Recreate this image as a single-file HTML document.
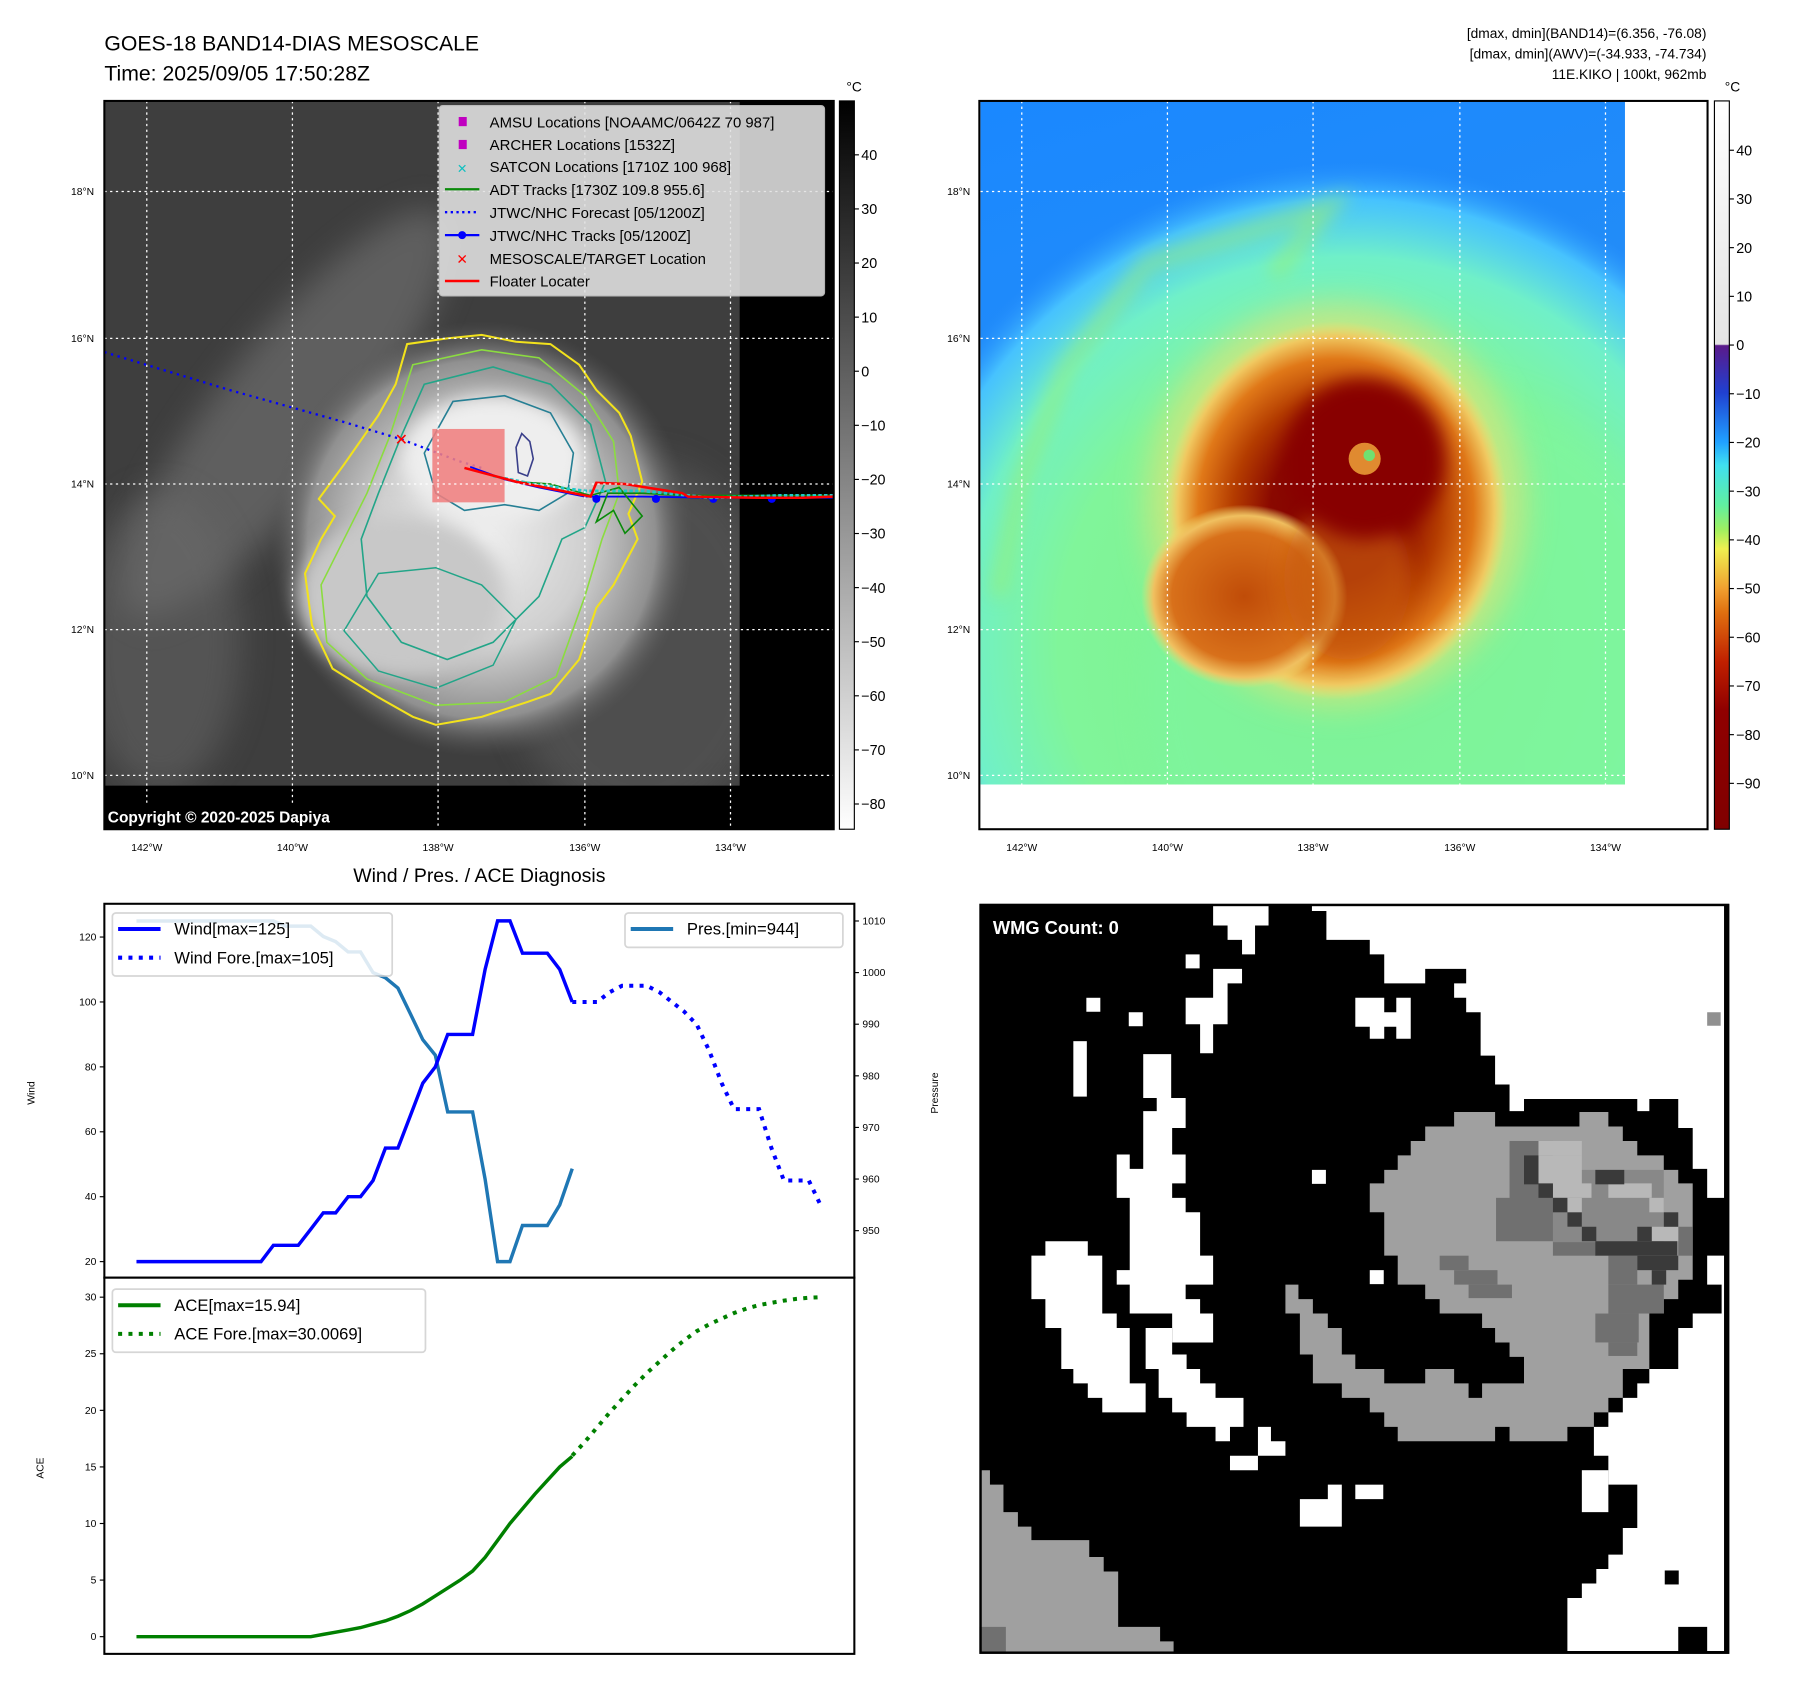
<!DOCTYPE html>
<html><head><meta charset="utf-8"><style>
html,body{margin:0;padding:0;background:#fff;}
svg{display:block;font-family:"Liberation Sans","DejaVu Sans",sans-serif;}
</style></head><body>
<svg id="root" width="1797" height="1690" viewBox="0 0 1567 1473.5" preserveAspectRatio="none" xmlns="http://www.w3.org/2000/svg">
<defs>
<filter id="blur8" x="-50%" y="-50%" width="200%" height="200%"><feGaussianBlur stdDeviation="8"/></filter>
<filter id="blur4" x="-50%" y="-50%" width="200%" height="200%"><feGaussianBlur stdDeviation="4"/></filter>
<filter id="blur14" x="-50%" y="-50%" width="200%" height="200%"><feGaussianBlur stdDeviation="14"/></filter>
<clipPath id="clipL"><rect x="91" y="88" width="636" height="635"/></clipPath>
<clipPath id="clipR"><rect x="855" y="88" width="562" height="596"/></clipPath>
<linearGradient id="cbGray" x1="0" y1="0" x2="0" y2="1"><stop offset="0" stop-color="#000"/><stop offset="1" stop-color="#fff"/></linearGradient>
<linearGradient id="cbColor" x1="0" y1="0" x2="0" y2="1">
<stop offset="0" stop-color="#ffffff"/><stop offset="0.334" stop-color="#e4e4e4"/>
<stop offset="0.336" stop-color="#5a1a8a"/><stop offset="0.40" stop-color="#2040d0"/>
<stop offset="0.468" stop-color="#20a0ff"/><stop offset="0.50" stop-color="#40e0f0"/>
<stop offset="0.555" stop-color="#60f0a0"/><stop offset="0.589" stop-color="#a0f060"/>
<stop offset="0.615" stop-color="#f0f050"/><stop offset="0.669" stop-color="#f0a030"/>
<stop offset="0.702" stop-color="#e07010"/><stop offset="0.77" stop-color="#c02000"/>
<stop offset="0.836" stop-color="#900000"/><stop offset="1" stop-color="#800000"/></linearGradient>
<linearGradient id="skyR" x1="0" y1="0" x2="0.3" y2="1"><stop offset="0" stop-color="#1a88ff"/><stop offset="1" stop-color="#2a90f0"/></linearGradient>
<radialGradient id="greenR" cx="0.5" cy="0.5" r="0.5">
<stop offset="0" stop-color="#7cf08a"/><stop offset="0.6" stop-color="#80f59a"/>
<stop offset="0.8" stop-color="#70f0c8"/><stop offset="0.92" stop-color="#50d0ff" stop-opacity="0.8"/>
<stop offset="1" stop-color="#2a90ff" stop-opacity="0"/></radialGradient>
<radialGradient id="stormR" cx="0.5" cy="0.5" r="0.5">
<stop offset="0" stop-color="#800000"/><stop offset="0.38" stop-color="#8a0800"/>
<stop offset="0.6" stop-color="#b43c00"/><stop offset="0.8" stop-color="#e07818"/>
<stop offset="0.92" stop-color="#f0c860"/><stop offset="1" stop-color="#f0e070" stop-opacity="0"/></radialGradient>
<radialGradient id="lobeR" cx="0.5" cy="0.5" r="0.5">
<stop offset="0" stop-color="#c04c08"/><stop offset="0.7" stop-color="#d8701a"/>
<stop offset="0.88" stop-color="#f0c060"/>
<stop offset="1" stop-color="#f0e070" stop-opacity="0"/></radialGradient>
<radialGradient id="cloudL" cx="0.5" cy="0.5" r="0.5">
<stop offset="0" stop-color="#f0f0f0"/><stop offset="0.5" stop-color="#cfcfcf"/>
<stop offset="0.82" stop-color="#909090"/><stop offset="1" stop-color="#555" stop-opacity="0"/></radialGradient>
</defs>

<text x="91" y="44" font-size="18.5">GOES-18 BAND14-DIAS MESOSCALE</text>
<text x="91" y="70" font-size="18.5">Time: 2025/09/05 17:50:28Z</text>
<g font-size="12" text-anchor="end">
<text x="1488" y="33">[dmax, dmin](BAND14)=(6.356, -76.08)</text>
<text x="1488" y="51">[dmax, dmin](AWV)=(-34.933, -74.734)</text>
<text x="1488" y="69">11E.KIKO | 100kt, 962mb</text>
</g>

<g>
<g clip-path="url(#clipL)">
<rect x="91" y="88" width="636" height="635" fill="#3e3e3e"/>
<ellipse cx="250" cy="360" rx="220" ry="60" fill="#7a7a7a" opacity="0.55" transform="rotate(-52 250 360)" filter="url(#blur14)"/>
<ellipse cx="140" cy="560" rx="70" ry="130" fill="#6a6a6a" opacity="0.5" filter="url(#blur14)"/>
<ellipse cx="560" cy="560" rx="120" ry="160" fill="#5a5a5a" opacity="0.6" filter="url(#blur14)"/>
<ellipse cx="420" cy="470" rx="185" ry="190" fill="url(#cloudL)"/>
<ellipse cx="350" cy="520" rx="90" ry="70" fill="#c8c8c8" filter="url(#blur8)"/>
<ellipse cx="430" cy="400" rx="80" ry="55" fill="#eeeeee" filter="url(#blur8)"/>
<rect x="645" y="88" width="82" height="635" fill="#000"/>
<rect x="91" y="685" width="636" height="38" fill="#000"/>
<path d="M355,300 L390,295 L420,292 L450,298 L480,300 L505,318 L520,340 L540,360 L550,380 L560,420 L548,448 L556,470 L535,510 L520,530 L505,575 L480,605 L460,612 L420,625 L380,632 L360,625 L330,608 L290,583 L272,545 L266,500 L280,470 L292,450 L278,435 L300,405 L330,362 L345,335 Z" fill="none" stroke="#f2e21c" stroke-width="1.8"/>
<path d="M360,318 L420,305 L470,312 L510,345 L535,385 L540,430 L525,470 L510,520 L485,590 L440,612 L380,615 L320,592 L285,560 L280,510 L300,470 L320,430 L340,380 Z" fill="none" stroke="#8bdc40" stroke-width="1.4"/>
<path d="M370,335 L430,320 L480,335 L515,370 L528,420 L510,460 L490,470 L470,520 L430,560 L390,575 L350,560 L320,520 L315,470 L330,430 L350,380 Z" fill="none" stroke="#22a588" stroke-width="1.4"/>
<path d="M395,350 L440,345 L480,360 L500,395 L495,430 L470,445 L440,440 L405,445 L380,430 L370,395 Z" fill="none" stroke="#267f94" stroke-width="1.4"/>
<path d="M330,500 L380,495 L420,510 L450,540 L430,580 L380,600 L330,585 L300,550 Z" fill="none" stroke="#22a588" stroke-width="1.3"/>
<path d="M450,390 L455,378 L462,385 L465,400 L460,415 L452,412 Z" fill="none" stroke="#3a3f8a" stroke-width="1.4"/>
<polyline points="91,307 200,340 300,368 350,383 400,402 420,408" fill="none" stroke="#0000ff" stroke-width="2" stroke-dasharray="2,4"/>
<rect x="377" y="374" width="63" height="64" fill="#f08080" opacity="0.88"/>
<polyline points="410,407 440,418 470,425 510,433 560,433 620,434 727,434" fill="none" stroke="#0000ff" stroke-width="1.6"/>
<g fill="#0000ff"><circle cx="520" cy="435" r="3.5"/><circle cx="572" cy="435" r="3.5"/><circle cx="622" cy="435" r="3.5"/><circle cx="673" cy="435" r="3.5"/></g>
<polyline points="420,412 450,420 480,422 515,432 540,425 560,450 545,465 535,445 520,455 530,430 560,430 600,432 660,432 727,432" fill="none" stroke="#0a8a0a" stroke-width="1.4"/>
<polyline points="430,415 470,423 510,428 560,428 620,434 680,432 727,432" fill="none" stroke="#20c8c8" stroke-width="2.5" stroke-dasharray="3,2"/>
<polyline points="405,408 450,420 490,428 515,433 520,421 545,422 570,426 595,430 600,433 660,434 700,434 727,433" fill="none" stroke="#ff0000" stroke-width="2.2"/>
<text x="350" y="388" font-size="14" fill="#ff0000" text-anchor="middle" font-weight="bold">✕</text>
<g stroke="#fff" stroke-width="1.1" stroke-dasharray="2,3">
<line x1="128" y1="88" x2="128" y2="723"/><line x1="255" y1="88" x2="255" y2="723"/><line x1="382" y1="88" x2="382" y2="723"/><line x1="510" y1="88" x2="510" y2="723"/><line x1="637" y1="88" x2="637" y2="723"/>
<line x1="91" y1="167" x2="727" y2="167"/><line x1="91" y1="295" x2="727" y2="295"/><line x1="91" y1="422" x2="727" y2="422"/><line x1="91" y1="549" x2="727" y2="549"/><line x1="91" y1="676" x2="727" y2="676"/>
</g>
<rect x="91" y="700" width="270" height="23" fill="#000"/>
<text x="94" y="717" font-size="13.5" font-weight="bold" fill="#fff">Copyright © 2020-2025 Dapiya</text>
</g>
<rect x="91" y="88" width="636" height="635" fill="none" stroke="#000" stroke-width="1.8"/>
</g>

<g font-size="13">
<rect x="383" y="92" width="336" height="166" rx="3" fill="#e2e2e2" opacity="0.88" stroke="#ccc"/>
<rect x="400" y="102" width="7" height="8" fill="#c000c0"/><text x="427" y="111">AMSU Locations [NOAAMC/0642Z 70 987]</text>
<rect x="400" y="122" width="7" height="8" fill="#c000c0"/><text x="427" y="131">ARCHER Locations [1532Z]</text>
<text x="403" y="151" fill="#10c0c0" font-size="11" text-anchor="middle" font-weight="bold">✕</text><text x="427" y="150">SATCON Locations [1710Z 100 968]</text>
<line x1="388" y1="165" x2="418" y2="165" stroke="#0a8a0a" stroke-width="2"/><text x="427" y="170">ADT Tracks [1730Z 109.8 955.6]</text>
<line x1="388" y1="185" x2="418" y2="185" stroke="#0000ff" stroke-width="2" stroke-dasharray="2,3"/><text x="427" y="190">JTWC/NHC Forecast [05/1200Z]</text>
<line x1="388" y1="205" x2="418" y2="205" stroke="#0000ff" stroke-width="2"/><circle cx="403" cy="205" r="3.5" fill="#0000ff"/><text x="427" y="210">JTWC/NHC Tracks [05/1200Z]</text>
<text x="403" y="230" fill="#ff0000" font-size="12" text-anchor="middle" font-weight="bold">✕</text><text x="427" y="230">MESOSCALE/TARGET Location</text>
<line x1="388" y1="245" x2="418" y2="245" stroke="#ff0000" stroke-width="2.2"/><text x="427" y="250">Floater Locater</text>
</g>

<g font-size="9" text-anchor="end">
<text x="82" y="170">18°N</text><text x="82" y="298">16°N</text><text x="82" y="425">14°N</text><text x="82" y="552">12°N</text><text x="82" y="679">10°N</text></g>
<g font-size="9" text-anchor="middle">
<text x="128" y="742">142°W</text><text x="255" y="742">140°W</text><text x="382" y="742">138°W</text><text x="510" y="742">136°W</text><text x="637" y="742">134°W</text></g>

<g>
<rect x="732" y="88" width="13" height="635" fill="url(#cbGray)" stroke="#000" stroke-width="1"/>
<text x="738" y="80" font-size="12">°C</text>
<g font-size="12.5" id="cbLticks"></g>
</g>

<g>
<g clip-path="url(#clipR)">
<rect x="855" y="88" width="562" height="596" fill="url(#skyR)"/>
<ellipse cx="1175" cy="560" rx="420" ry="420" fill="url(#greenR)"/>
<ellipse cx="1250" cy="600" rx="250" ry="260" fill="#7ef5a0" opacity="0.6" filter="url(#blur14)"/>
<path d="M1110,240 L1160,180 L1000,230 L930,320 L890,420 L870,520" fill="none" stroke="#9cf070" stroke-width="14" opacity="0.6" filter="url(#blur8)"/>
<ellipse cx="1165" cy="440" rx="165" ry="175" fill="#f0e070" opacity="0.6" filter="url(#blur14)"/>
<ellipse cx="1165" cy="445" rx="150" ry="165" fill="url(#stormR)"/>
<ellipse cx="1085" cy="520" rx="90" ry="80" fill="url(#lobeR)"/>
<ellipse cx="1175" cy="505" rx="55" ry="70" fill="#c85a10" opacity="0.7" filter="url(#blur8)"/>
<ellipse cx="1190" cy="400" rx="70" ry="70" fill="#880000" filter="url(#blur8)"/>
<ellipse cx="1190" cy="400" rx="14" ry="14" fill="#e08a30"/>
<ellipse cx="1194" cy="397" rx="5" ry="5" fill="#70e070"/>
<g stroke="#fff" stroke-width="1.1" stroke-dasharray="2,3">
<line x1="891" y1="88" x2="891" y2="684"/><line x1="1018" y1="88" x2="1018" y2="684"/><line x1="1145" y1="88" x2="1145" y2="684"/><line x1="1273" y1="88" x2="1273" y2="684"/><line x1="1400" y1="88" x2="1400" y2="684"/>
<line x1="855" y1="167" x2="1417" y2="167"/><line x1="855" y1="295" x2="1417" y2="295"/><line x1="855" y1="422" x2="1417" y2="422"/><line x1="855" y1="549" x2="1417" y2="549"/><line x1="855" y1="676" x2="1417" y2="676"/>
</g>
</g>
<rect x="854" y="88" width="635" height="635" fill="none" stroke="#000" stroke-width="1.8"/>
</g>
<g font-size="9" text-anchor="end">
<text x="846" y="170">18°N</text><text x="846" y="298">16°N</text><text x="846" y="425">14°N</text><text x="846" y="552">12°N</text><text x="846" y="679">10°N</text></g>
<g font-size="9" text-anchor="middle">
<text x="891" y="742">142°W</text><text x="1018" y="742">140°W</text><text x="1145" y="742">138°W</text><text x="1273" y="742">136°W</text><text x="1400" y="742">134°W</text></g>
<g>
<rect x="1495" y="88" width="13" height="635" fill="url(#cbColor)" stroke="#000" stroke-width="1"/>
<text x="1504" y="80" font-size="12">°C</text>
<g font-size="12.5" id="cbRticks"></g>
</g>

<text x="418" y="769" font-size="17" text-anchor="middle">Wind / Pres. / ACE Diagnosis</text>
<g id="windPanel"></g>
<g id="acePanel"></g>

<svg x="854" y="788" width="654" height="654" viewBox="0 0 1556 1556" preserveAspectRatio="none">
<rect x="0" y="0" width="1556" height="1556" fill="#000"/>
<g fill="#fff">
<polygon points="690,0 1545,0 1545,610 1510,610 1510,550 1480,550 1480,465 1450,465 1450,405 1390,405 1390,430 1365,430 1365,405 1130,405 1130,430 1100,430 1100,375 1070,375 1070,315 1040,315 1040,225 1010,225 1010,195 985,195 985,165 1010,165 1010,135 925,135 925,165 840,165 840,105 810,105 810,75 720,75 720,15 690,15"/>
<polygon points="485,0 600,0 600,45 572,45 572,105 545,105 545,75 515,75 515,45 485,45"/>
<polygon points="485,135 545,135 545,165 515,165 515,250 485,250 485,310 458,310 458,250 428,250 428,195 485,195"/>
<rect x="428" y="105" width="29" height="29"/><rect x="222" y="195" width="29" height="29"/><rect x="310" y="225" width="29" height="29"/><rect x="690" y="552" width="29" height="29"/><rect x="810" y="760" width="29" height="29"/>
<polygon points="780,195 840,195 840,225 865,225 865,195 895,195 895,280 865,280 865,255 840,255 840,280 810,280 810,255 780,255"/>
<rect x="195" y="285" width="28" height="115"/>
<polygon points="340,312 398,312 398,403 428,403 428,465 400,465 400,520 428,520 428,580 400,580 400,610 428,610 428,640 458,640 458,730 485,730 485,790 428,790 428,820 458,820 458,850 485,850 485,910 400,910 400,850 312,850 312,790 285,790 285,760 312,760 312,610 285,610 285,520 312,520 312,550 340,550 340,430 368,430 368,403 340,403"/>
<polygon points="137,700 225,700 225,730 255,730 255,850 285,850 285,880 312,880 312,995 345,995 345,1055 255,1055 255,1025 225,1025 225,995 195,995 195,965 170,965 170,880 137,880 137,820 108,820 108,730 137,730"/>
<polygon points="345,880 400,880 400,935 430,935 430,965 458,965 458,995 490,995 490,1025 548,1025 548,1085 520,1085 520,1115 490,1115 490,1085 430,1085 430,1055 400,1055 400,1025 372,1025 372,965 345,965"/>
<polygon points="578,1085 605,1085 605,1115 635,1115 635,1145 578,1145 578,1175 520,1175 520,1145 578,1145"/>
<polygon points="723,1205 752,1205 752,1292 665,1292 665,1235 723,1235"/><rect x="780" y="1205" width="58" height="30"/>
<polygon points="1510,730 1545,730 1545,1550 1510,1550 1510,1500 1450,1500 1450,1550 1220,1550 1220,1440 1250,1440 1250,1410 1280,1410 1280,1380 1305,1380 1305,1350 1335,1350 1335,1295 1365,1295 1365,1205 1305,1205 1305,1145 1275,1145 1275,1085 1305,1085 1305,1055 1335,1055 1335,1025 1365,1025 1365,995 1390,995 1390,965 1450,965 1450,880 1480,880 1480,850 1540,850 1540,790 1510,790"/>
<rect x="1250" y="1175" width="55" height="87"/>
</g>
<rect x="1422" y="1383" width="29" height="29" fill="#000"/>
<g>
<polygon fill="#a0a0a0" points="985,432 1070,432 1070,462 1245,462 1245,432 1305,432 1305,462 1335,462 1335,492 1365,492 1365,522 1420,522 1420,552 1450,552 1450,580 1480,580 1480,780 1450,780 1450,820 1420,820 1420,850 1390,850 1390,965 1335,965 1335,1025 1305,1025 1305,1055 1275,1055 1275,1085 1220,1085 1220,1115 1100,1115 1100,1085 1070,1085 1070,1115 868,1115 868,1085 840,1085 840,1055 810,1055 810,1025 752,1025 752,995 692,995 692,935 665,935 665,850 635,850 635,790 662,790 662,820 692,820 692,850 723,850 723,880 752,880 752,935 780,935 780,965 840,965 840,995 925,995 925,965 985,965 985,995 1015,995 1015,1025 1043,1025 1043,995 1130,995 1130,940 1100,940 1100,910 1070,910 1070,880 1043,880 1043,850 955,850 955,820 925,820 925,790 868,790 868,730 840,730 840,640 810,640 810,580 840,580 840,552 868,552 868,522 895,522 895,492 925,492 925,462 985,462"/>
<g fill="#707070"><rect x="1100" y="492" width="90" height="120"/><rect x="1072" y="610" width="150" height="90"/><rect x="1190" y="700" width="90" height="30"/><rect x="1305" y="730" width="60" height="60"/><rect x="1305" y="790" width="115" height="60"/><rect x="1278" y="850" width="90" height="60"/><rect x="1305" y="910" width="60" height="28"/><rect x="955" y="730" width="60" height="30"/><rect x="985" y="760" width="90" height="30"/><rect x="1015" y="790" width="90" height="28"/><rect x="1450" y="670" width="30" height="60"/></g>
<rect x="1190" y="552" width="230" height="150" fill="#888"/>
<g fill="#b8b8b8"><rect x="1160" y="492" width="90" height="30"/><rect x="1160" y="522" width="90" height="60"/><rect x="1190" y="580" width="80" height="30"/><rect x="1220" y="610" width="30" height="60"/><rect x="1305" y="580" width="90" height="30"/><rect x="1390" y="610" width="30" height="30"/><rect x="1395" y="670" width="55" height="30"/></g>
<g fill="#3a3a3a"><rect x="1130" y="522" width="30" height="60"/><rect x="1160" y="580" width="30" height="30"/><rect x="1190" y="610" width="30" height="30"/><rect x="1220" y="640" width="30" height="30"/><rect x="1250" y="670" width="30" height="30"/><rect x="1278" y="700" width="170" height="30"/><rect x="1365" y="730" width="85" height="30"/><rect x="1395" y="760" width="30" height="30"/><rect x="1278" y="552" width="60" height="30"/><rect x="1420" y="640" width="30" height="30"/><rect x="1365" y="670" width="30" height="30"/></g>
</g>
<polygon fill="#a0a0a0" points="0,1175 22,1175 22,1205 50,1205 50,1262 80,1262 80,1292 108,1292 108,1320 228,1320 228,1355 258,1355 258,1385 288,1385 288,1500 375,1500 375,1530 403,1530 403,1556 0,1556"/>
<rect x="0" y="1500" width="55" height="56" fill="#707070"/>
<rect x="1510" y="225" width="28" height="28" fill="#909090"/>
<text x="28" y="63" font-size="38" font-weight="bold" fill="#fff">WMG Count: 0</text>
<rect x="2" y="2" width="1552" height="1552" fill="none" stroke="#000" stroke-width="6"/>
</svg>
</svg>

<script>
const windObs = [20,20,20,20,20,20,20,20,20,20,20,25,25,25,30,35,35,40,40,45,55,55,65,75,80,90,90,90,110,125,125,115,115,115,110,100];
const windFore = [100,100,100,103,105,105,105,103,100,97,93,85,75,67,67,67,55,45,45,45,37];
const presObs = [1010,1010,1010,1010,1010,1010,1010,1010,1010,1010,1010,1010,1009,1009,1009,1007,1006,1004,1004,1000,999,997,992,987,984,973,973,973,960,944,944,951,951,951,955,962];
const aceObs = [0,0,0,0,0,0,0,0,0,0,0,0,0,0,0,0.2,0.4,0.6,0.8,1.1,1.4,1.8,2.3,2.9,3.6,4.3,5.0,5.8,7.0,8.5,10.0,11.3,12.6,13.8,15.0,15.94];
const aceFore = [16,17.2,18.5,19.8,21,22.2,23.3,24.3,25.3,26.2,27,27.6,28.1,28.6,29,29.3,29.5,29.7,29.85,29.95,30.0];
const windTicks = [20,40,60,80,100,120];
const presTicks = [950,960,970,980,990,1000,1010];
const aceTicks = [0,5,10,15,20,25,30];
const grayCbTicks = [40,30,20,10,0,-10,-20,-30,-40,-50,-60,-70,-80];
const colorCbTicks = [40,30,20,10,0,-10,-20,-30,-40,-50,-60,-70,-80,-90];

const NS = 'http://www.w3.org/2000/svg';
function mk(tag, attrs, parent){const e=document.createElementNS(NS,tag);for(const k in attrs)e.setAttribute(k,attrs[k]);parent.appendChild(e);return e;}

const foreStart = windObs.length - 1;
const xIdx = i => 119 + i * (499 - 119) / 35;
const yWind = v => 1100 - (v - 20) * (1100 - 817) / 100;
const yPres = v => 803 + (1010 - v) * (1073 - 803) / 60;
const yAce = v => 1427 - v * (1427 - 1131) / 30;

const wp = document.getElementById('windPanel');
const ap = document.getElementById('acePanel');
mk('rect',{x:91,y:788,width:654,height:326,fill:'#fff'},wp);
mk('rect',{x:91,y:1114,width:654,height:328,fill:'#fff'},ap);

windTicks.forEach(t=>{
  const y=yWind(t);
  const l=mk('line',{x1:87,x2:91,y1:y,y2:y,stroke:'#000','stroke-width':1},wp);
  
  
  const tx=mk('text',{x:84,y:y+3,'font-size':9,'text-anchor':'end'},wp); tx.textContent=t;
  
  
});
presTicks.forEach(t=>{
  const y=yPres(t);
  mk('line',{x1:745,x2:749,y1:y,y2:y,stroke:'#000','stroke-width':1},wp);
  const tx=mk('text',{x:752,y:y+3,'font-size':9},wp); tx.textContent=t;
  
  
});
aceTicks.forEach(t=>{
  const y=yAce(t);
  mk('line',{x1:87,x2:91,y1:y,y2:y,stroke:'#000','stroke-width':1},ap);
  const tx=mk('text',{x:84,y:y+3,'font-size':9,'text-anchor':'end'},ap); tx.textContent=t;
  
  
});
let yl=mk('text',{x:30,y:953,'font-size':9,'text-anchor':'middle',transform:'rotate(-90 30 953)'},wp); yl.textContent='Wind';


yl=mk('text',{x:818,y:953,'font-size':9,'text-anchor':'middle',transform:'rotate(-90 818 953)'},wp); yl.textContent='Pressure';


yl=mk('text',{x:38,y:1280,'font-size':9,'text-anchor':'middle',transform:'rotate(-90 38 1280)'},ap); yl.textContent='ACE';



function pts(arr, off, yf){return arr.map((v,i)=>xIdx(i+off).toFixed(1)+','+yf(v).toFixed(1)).join(' ');}

let ln=mk('polyline',{points:pts(presObs,0,yPres),fill:'none',stroke:'#1f77b4','stroke-width':3},wp);


ln=mk('polyline',{points:pts(windObs,0,yWind),fill:'none',stroke:'#0000ff','stroke-width':3},wp);


ln=mk('polyline',{points:pts(windFore,foreStart,yWind),fill:'none',stroke:'#0000ff','stroke-width':3.5,'stroke-dasharray':'3.5,5.5'},wp);


ln=mk('polyline',{points:pts(aceObs,0,yAce),fill:'none',stroke:'#008000','stroke-width':3},ap);


ln=mk('polyline',{points:pts(aceFore,foreStart,yAce),fill:'none',stroke:'#008000','stroke-width':3.5,'stroke-dasharray':'3.5,5.5'},ap);



function legend(parent,x,y,w,h,items,name){
  const g=mk('g',{},parent);
  
  
  mk('rect',{x:x,y:y,width:w,height:h,rx:3,fill:'#fff',opacity:0.85,stroke:'#d0d0d0','stroke-width':1.5},g);
  items.forEach((it,k)=>{
    const yy=y+14+k*25;
    const a={x1:x+5,x2:x+42,y1:yy,y2:yy,stroke:it.c,'stroke-width':3.5};
    if(it.d)a['stroke-dasharray']='3.5,5.5';
    mk('line',a,g);
    const t=mk('text',{x:x+54,y:yy+5,'font-size':14.5},g); t.textContent=it.t;
  });
}
legend(wp,98,796,244,55,[{c:'#0000ff',t:'Wind[max=125]'},{c:'#0000ff',d:1,t:'Wind Fore.[max=105]'}],'wind-legend');
legend(wp,545,796,190,30,[{c:'#1f77b4',t:'Pres.[min=944]'}],'pressure-legend');
legend(ap,98,1124,273,55,[{c:'#008000',t:'ACE[max=15.94]'},{c:'#008000',d:1,t:'ACE Fore.[max=30.0069]'}],'ace-legend');

mk('rect',{x:91,y:788,width:654,height:326,fill:'none',stroke:'#000','stroke-width':1.8},wp);
mk('rect',{x:91,y:1114,width:654,height:328,fill:'none',stroke:'#000','stroke-width':1.8},ap);

const cbl=document.getElementById('cbLticks');
const yCbL = v => 135 + (40 - v) * (701 - 135) / 120;
grayCbTicks.forEach(t=>{
  const y=yCbL(t);
  mk('line',{x1:745,x2:749,y1:y,y2:y,stroke:'#000'},cbl);
  const tx=mk('text',{x:751,y:y+4.5},cbl); tx.textContent=(t<0?'\u2212'+(-t):t);
  
  
});
const cbr=document.getElementById('cbRticks');
const yCbR = v => 131 + (40 - v) * (683 - 131) / 130;
colorCbTicks.forEach(t=>{
  const y=yCbR(t);
  mk('line',{x1:1508,x2:1512,y1:y,y2:y,stroke:'#000'},cbr);
  const tx=mk('text',{x:1514,y:y+4.5},cbr); tx.textContent=(t<0?'\u2212'+(-t):t);
  
  
});
</script>
</body></html>
